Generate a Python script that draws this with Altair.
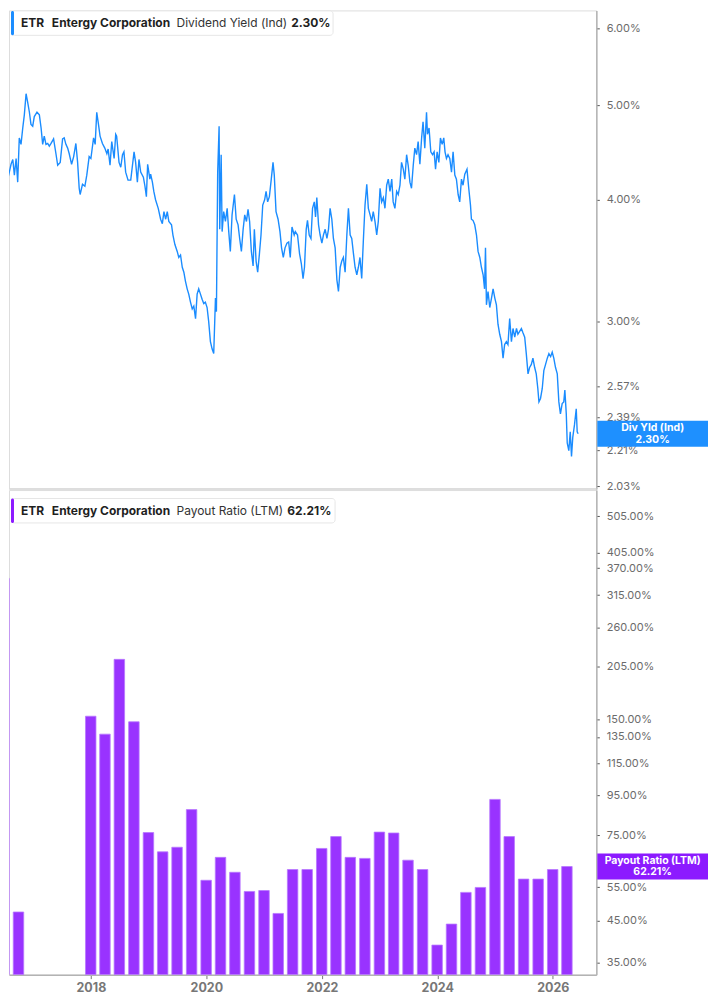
import altair as alt
import pandas as pd

# ------------------------------------------------------------------
# Data
# ------------------------------------------------------------------
# Dividend yield (Ind), % -- decimal-year sample times and values
yield_t = [
    2016.446, 2016.493, 2016.503, 2016.532, 2016.562, 2016.589, 2016.619, 2016.648, 2016.676, 2016.705,
    2016.734, 2016.762, 2016.791, 2016.821, 2016.848, 2016.878, 2016.907, 2016.935, 2016.964, 2016.993,
    2017.021, 2017.068, 2017.107, 2017.137, 2017.166, 2017.194, 2017.223, 2017.253, 2017.280, 2017.310,
    2017.356, 2017.396, 2017.425, 2017.470, 2017.512, 2017.539, 2017.569, 2017.598, 2017.626, 2017.667,
    2017.702, 2017.741, 2017.771, 2017.798, 2017.816, 2017.857, 2017.897, 2017.931, 2017.971,
    2018.000, 2018.047, 2018.075, 2018.104, 2018.133, 2018.161, 2018.202, 2018.242, 2018.277, 2018.299,
    2018.334, 2018.363, 2018.403, 2018.432, 2018.449, 2018.489, 2018.518, 2018.548, 2018.575, 2018.605,
    2018.644, 2018.691, 2018.748, 2018.777, 2018.807, 2018.834, 2018.864, 2018.910, 2018.938, 2018.962,
    2018.985,
    2019.024, 2019.037, 2019.066, 2019.093, 2019.123, 2019.169, 2019.209, 2019.239, 2019.266, 2019.296,
    2019.325, 2019.353, 2019.399, 2019.422, 2019.456, 2019.498, 2019.525, 2019.555, 2019.584, 2019.612,
    2019.641, 2019.670, 2019.698, 2019.727, 2019.757, 2019.784, 2019.814, 2019.843, 2019.871, 2019.900,
    2019.929, 2019.957, 2019.986,
    2020.016, 2020.043, 2020.073, 2020.102, 2020.130, 2020.159, 2020.176, 2020.199, 2020.223, 2020.233,
    2020.258, 2020.275, 2020.302, 2020.332, 2020.361, 2020.389, 2020.418, 2020.448, 2020.487, 2020.517,
    2020.551, 2020.579, 2020.608, 2020.637, 2020.665, 2020.694, 2020.724, 2020.751, 2020.781, 2020.810,
    2020.833, 2020.862, 2020.890, 2020.919, 2020.948, 2020.976,
    2021.010, 2021.035, 2021.062, 2021.092, 2021.126, 2021.156, 2021.178, 2021.207, 2021.242, 2021.276,
    2021.304, 2021.333, 2021.363, 2021.397, 2021.425, 2021.454, 2021.484, 2021.523, 2021.541, 2021.580,
    2021.615, 2021.644, 2021.674, 2021.701, 2021.731, 2021.753, 2021.782, 2021.812, 2021.839, 2021.869,
    2021.891, 2021.915, 2021.943, 2021.972,
    2022.002, 2022.029, 2022.059, 2022.088, 2022.116, 2022.145, 2022.174, 2022.202, 2022.231, 2022.261,
    2022.288, 2022.318, 2022.347, 2022.375, 2022.404, 2022.433, 2022.461, 2022.491, 2022.520, 2022.548,
    2022.577, 2022.606, 2022.634, 2022.663, 2022.693, 2022.720, 2022.750, 2022.779, 2022.807, 2022.836,
    2022.865, 2022.893, 2022.922, 2022.952, 2022.979,
    2023.009, 2023.038, 2023.066, 2023.095, 2023.124, 2023.152, 2023.181, 2023.211, 2023.238, 2023.268,
    2023.297, 2023.325, 2023.354, 2023.383, 2023.411, 2023.440, 2023.470, 2023.497, 2023.527, 2023.556,
    2023.584, 2023.613, 2023.642, 2023.670, 2023.699, 2023.729, 2023.756, 2023.786, 2023.815, 2023.832,
    2023.860, 2023.889, 2023.919, 2023.946, 2023.971, 2023.998,
    2024.028, 2024.057, 2024.085, 2024.114, 2024.136, 2024.161, 2024.188, 2024.218, 2024.247, 2024.275,
    2024.304, 2024.333, 2024.361, 2024.390, 2024.420, 2024.447, 2024.477, 2024.516, 2024.546, 2024.575,
    2024.592, 2024.620, 2024.649, 2024.679, 2024.706, 2024.736, 2024.765, 2024.793, 2024.817, 2024.834,
    2024.851, 2024.879, 2024.908, 2024.938, 2024.965, 2024.995,
    2025.024, 2025.052, 2025.081, 2025.110, 2025.138, 2025.167, 2025.197, 2025.224, 2025.254, 2025.283,
    2025.311, 2025.340, 2025.370, 2025.397, 2025.426, 2025.456, 2025.483, 2025.513, 2025.542, 2025.570,
    2025.599, 2025.629, 2025.656, 2025.685, 2025.715, 2025.742, 2025.760, 2025.789, 2025.819, 2025.846,
    2025.875, 2025.905, 2025.932, 2025.962, 2025.991,
    2026.019, 2026.048, 2026.077, 2026.105, 2026.134, 2026.164, 2026.191, 2026.209, 2026.233, 2026.250,
    2026.278, 2026.302, 2026.324, 2026.347, 2026.376, 2026.406, 2026.423, 2026.440,
]
yield_v = [
    4.34, 4.35, 4.15, 4.24, 4.20, 4.27, 4.35, 4.40, 4.24, 4.41,
    4.17, 4.63, 4.56, 4.74, 4.89, 5.14, 5.04, 4.92, 4.78, 4.76,
    4.87, 4.92, 4.89, 4.74, 4.56, 4.65, 4.56, 4.57, 4.54, 4.57,
    4.62, 4.46, 4.34, 4.37, 4.62, 4.63, 4.56, 4.52, 4.46, 4.35,
    4.43, 4.57, 4.37, 4.11, 4.05, 4.15, 4.13, 4.24, 4.43,
    4.41, 4.63, 4.56, 4.92, 4.78, 4.65, 4.57, 4.52, 4.46, 4.51,
    4.34, 4.59, 4.41, 4.67, 4.65, 4.37, 4.32, 4.45, 4.48, 4.27,
    4.19, 4.19, 4.48, 4.37, 4.17, 4.40, 4.27, 4.22, 4.13, 4.03,
    4.35,
    4.20, 4.25, 4.17, 4.08, 4.00, 3.92, 3.82, 3.78, 3.89, 3.82,
    3.89, 3.80, 3.77, 3.68, 3.60, 3.54, 3.49, 3.51, 3.41, 3.37,
    3.30, 3.24, 3.20, 3.14, 3.09, 3.11, 3.02, 3.20, 3.24, 3.20,
    3.16, 3.13, 3.14,
    3.10, 3.00, 2.86, 2.81, 2.78, 3.17, 3.07, 4.27, 4.76, 3.73,
    4.45, 3.71, 3.89, 3.80, 3.92, 3.71, 3.54, 3.86, 4.05, 3.82,
    3.77, 3.65, 3.54, 3.73, 3.86, 3.80, 3.91, 3.80, 3.54, 3.42,
    3.73, 3.46, 3.37, 3.52, 3.68, 3.95,
    4.00, 4.08, 3.98, 4.03, 4.20, 4.37, 4.24, 3.89, 3.82, 3.71,
    3.57, 3.49, 3.57, 3.61, 3.62, 3.49, 3.75, 3.68, 3.71, 3.68,
    3.52, 3.44, 3.32, 3.41, 3.73, 3.81, 3.68, 3.65, 3.92, 3.98,
    3.84, 4.02, 3.77, 3.68,
    3.61, 3.68, 3.73, 3.65, 3.73, 3.92, 3.82, 3.65, 3.57, 3.31,
    3.22, 3.41, 3.46, 3.49, 3.37, 3.68, 3.92, 3.68, 3.65, 3.52,
    3.41, 3.35, 3.41, 3.49, 3.32, 3.62, 3.95, 4.15, 3.92, 3.86,
    3.80, 3.89, 3.80, 3.68, 3.80,
    4.11, 3.98, 4.02, 3.92, 4.14, 4.20, 4.08, 4.20, 3.98, 3.92,
    4.08, 4.05, 4.14, 4.37, 4.30, 4.20, 4.45, 4.34, 4.17, 4.11,
    4.34, 4.52, 4.45, 4.59, 4.35, 4.63, 4.81, 4.52, 4.92, 4.67,
    4.74, 4.48, 4.45, 4.48, 4.30, 4.48,
    4.37, 4.63, 4.56, 4.63, 4.48, 4.41, 4.45, 4.41, 4.27, 4.48,
    4.24, 4.20, 4.05, 3.98, 4.20, 4.14, 4.25, 4.30, 4.11, 3.95,
    3.82, 3.81, 3.77, 3.68, 3.54, 3.49, 3.41, 3.35, 3.24, 3.57,
    3.12, 3.22, 3.10, 3.17, 3.24, 3.17,
    3.12, 2.98, 2.91, 2.86, 2.75, 2.84, 2.86, 2.84, 3.02, 2.86,
    2.95, 2.89, 2.95, 2.91, 2.93, 2.95, 2.92, 2.89, 2.78, 2.65,
    2.69, 2.71, 2.75, 2.69, 2.65, 2.56, 2.48, 2.50, 2.56, 2.67,
    2.71, 2.75, 2.78, 2.76, 2.79,
    2.75, 2.69, 2.65, 2.48, 2.41, 2.47, 2.48, 2.55, 2.41, 2.25,
    2.21, 2.31, 2.18, 2.28, 2.35, 2.44, 2.31, 2.30,
]

# Payout ratio (LTM), % -- one bar per quarter end (None = no bar)
quarter_ends = [
    "2016-06-30", "2016-09-30", "2016-12-31", "2017-03-31", "2017-06-30", "2017-09-30",
    "2017-12-31", "2018-03-31", "2018-06-30", "2018-09-30", "2018-12-31",
    "2019-03-31", "2019-06-30", "2019-09-30", "2019-12-31",
    "2020-03-31", "2020-06-30", "2020-09-30", "2020-12-31",
    "2021-03-31", "2021-06-30", "2021-09-30", "2021-12-31",
    "2022-03-31", "2022-06-30", "2022-09-30", "2022-12-31",
    "2023-03-31", "2023-06-30", "2023-09-30", "2023-12-31",
    "2024-03-31", "2024-06-30", "2024-09-30", "2024-12-31",
    "2025-03-31", "2025-06-30", "2025-09-30", "2025-12-31",
    "2026-03-31",
]
payout = [
    348.0, 47.4, None, None, None, None,
    152.7, 137.2, 214.5, 147.7, 76.2,
    67.9, 69.8, 87.4, 57.3,
    65.7, 60.1, 53.6, 53.9,
    47.0, 61.1, 61.1, 69.3,
    74.4, 65.7, 65.3, 76.4,
    76.0, 64.6, 61.1, 38.9,
    44.1, 53.3, 54.9, 92.9,
    74.4, 57.7, 57.7, 61.1,
    62.21,
]

LAST_YIELD = 2.30
LAST_PAYOUT = 62.21

top_ticks = [2.03, 2.21, 2.39, 2.57, 3.00, 4.00, 5.00, 6.00]
bottom_ticks = [35, 45, 55, 75, 95, 115, 135, 150, 205, 260, 315, 370, 405, 505]
year_ticks = [2018, 2020, 2022, 2024, 2026]

top_domain = [2.018, 6.26]
bottom_domain = [32.6, 590.0]
x_start = alt.DateTime(year=2016, month=8, date=1, utc=True)
x_end = alt.DateTime(year=2026, month=10, date=3, utc=True)


def dec_to_iso(t):
    y = int(t)
    start = pd.Timestamp(year=y, month=1, day=1)
    span = (pd.Timestamp(year=y + 1, month=1, day=1) - start).days
    return (start + pd.Timedelta(days=(t - y) * span)).strftime("%Y-%m-%d")


line_df = pd.DataFrame({"date": [dec_to_iso(t) for t in yield_t], "yield": yield_v})
bar_df = pd.DataFrame({"date": quarter_ends, "payout": payout}).dropna()
one = pd.DataFrame({"k": [0]})

# ------------------------------------------------------------------
# Style
# ------------------------------------------------------------------
FONT = "Inter"
BLUE = "#1a8cff"
BOX_BLUE = "#1e90ff"
PURPLE = "#9933ff"
BOX_PURPLE = "#8c1aff"
W = 589
H_TOP = 480
H_BOT = 486
BOX_X = 645.5
BOX_W = 111


def x_scale():
    return alt.Scale(domain=[x_start, x_end], padding=0, nice=False)


def y_axis(values):
    return alt.Axis(
        orient="right", values=values, labelExpr="format(datum.value, '.2f') + '%'",
        tickSize=3, tickColor="#555555", tickWidth=1,
        domainColor="#b3b3b3", domainWidth=1.5,
        labelColor="#6b6b6b", labelFontSize=11, labelFont=FONT, labelPadding=7,
        labelOverlap=False, grid=False, title=None, zindex=0,
    )


def header(label, value, color, value_x, box_right, top):
    layers = [
        alt.Chart(one).mark_rect(fill="white", stroke="#e6e6e6", strokeWidth=1, cornerRadius=3).encode(
            x=alt.value(2.5), x2=alt.value(box_right), y=alt.value(top + 0.5), y2=alt.value(top + 25)),
        alt.Chart(one).mark_rect(fill=color, cornerRadius=2).encode(
            x=alt.value(2), x2=alt.value(5), y=alt.value(top + 0.5), y2=alt.value(top + 25)),
    ]
    for txt, xpos, weight, col in [
        ("ETR", 12, "bold", "#1f1f1f"),
        ("Entergy Corporation", 43, "bold", "#1f1f1f"),
        (label, 168, "normal", "#333333"),
        (value, value_x, "bold", "#1f1f1f"),
    ]:
        layers.append(
            alt.Chart(one).mark_text(align="left", baseline="middle", font=FONT, fontSize=12,
                                     fontWeight=weight, color=col, text=txt).encode(
                x=alt.value(xpos), y=alt.value(top + 13)))
    return layers


def right_box(datum, line1, line2, color):
    return [
        alt.Chart(one).mark_tick(orient="horizontal", size=BOX_W, thickness=26, color=color, opacity=1).encode(
            x=alt.value(BOX_X), y=alt.datum(datum)),
        alt.Chart(one).mark_text(align="center", baseline="middle", font=FONT, fontSize=10.5,
                                 fontWeight="bold", color="white", dy=-6, text=line1).encode(
            x=alt.value(BOX_X), y=alt.datum(datum)),
        alt.Chart(one).mark_text(align="center", baseline="middle", font=FONT, fontSize=10.5,
                                 fontWeight="bold", color="white", dy=6, text=line2).encode(
            x=alt.value(BOX_X), y=alt.datum(datum)),
    ]


# ------------------------------------------------------------------
# Top panel: dividend yield
# ------------------------------------------------------------------
line = alt.Chart(line_df).mark_line(color=BLUE, strokeWidth=1.4, clip=True).encode(
    x=alt.X("date:T", scale=x_scale(), axis=None),
    y=alt.Y("yield:Q", scale=alt.Scale(type="log", domain=top_domain, nice=False, zero=False),
            axis=y_axis(top_ticks)),
)
sep = alt.Chart(one).mark_rule(color="#dcdcdc", strokeWidth=1).encode(
    x=alt.value(0), x2=alt.value(W), y=alt.value(H_TOP - 0.5))

top = alt.layer(
    line, sep,
    *header("Dividend Yield (Ind)", "2.30%", BLUE, 283, 325, 0),
    *right_box(LAST_YIELD, "Div Yld (Ind)", "2.30%", BOX_BLUE),
).properties(width=W, height=H_TOP)

# ------------------------------------------------------------------
# Bottom panel: payout ratio
# ------------------------------------------------------------------
bars = alt.Chart(bar_df).mark_bar(color=PURPLE, fill=PURPLE, size=10.5, clip=True,
                                  stroke="#b877ff", strokeWidth=0.8).encode(
    x=alt.X("date:T", scale=x_scale(),
            axis=alt.Axis(values=[alt.DateTime(year=y, utc=True) for y in year_ticks], format="%Y",
                          labelFontWeight="bold", labelColor="#777777", labelFontSize=12.5, labelFont=FONT,
                          tickSize=4, tickColor="#777777", domainColor="#b3b3b3", domainWidth=1.5,
                          labelPadding=3, grid=False, title=None, labelOverlap=False)),
    y=alt.Y("payout:Q", stack=None,
            scale=alt.Scale(type="log", domain=bottom_domain, nice=False, zero=False),
            axis=y_axis(bottom_ticks)),
    y2=alt.value(H_BOT),
)

bottom = alt.layer(
    bars,
    *header("Payout Ratio (LTM)", "62.21%", BOX_PURPLE, 279, 327, 8),
    *right_box(LAST_PAYOUT, "Payout Ratio (LTM)", "62.21%", BOX_PURPLE),
).properties(width=W, height=H_BOT)

chart = alt.vconcat(top, bottom, spacing=1, bounds="flush").properties(
    padding=0
).configure_view(stroke=None).configure(font=FONT)

chart.save("out.html", embed_options={"renderer": "svg", "actions": False})
